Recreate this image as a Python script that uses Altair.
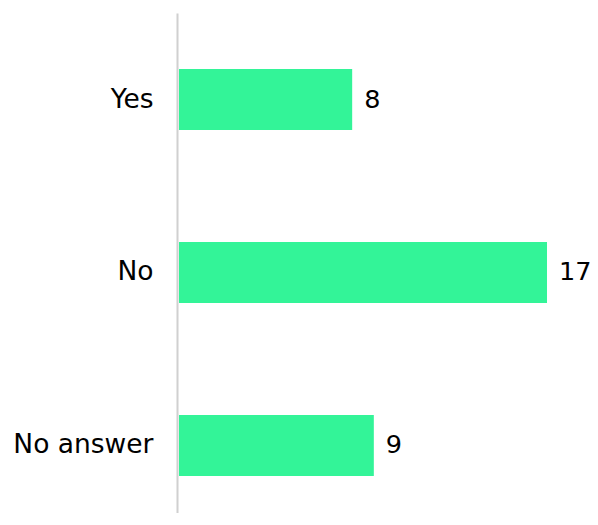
import altair as alt
import pandas as pd

categories = ["Yes", "No", "No answer"]
values = [8, 17, 9]

df = pd.DataFrame({"answer": categories, "count": values})

base = alt.Chart(df).encode(
    y=alt.Y(
        "answer:N",
        sort=categories,
        title=None,
        scale=alt.Scale(paddingInner=0.647, paddingOuter=0.269, align=0.602),
        axis=alt.Axis(
            domain=True,
            domainColor="#d0d0d0",
            domainWidth=2,
            offset=2,
            ticks=False,
            tickSize=0,
            labelPadding=24,
            labelFont="DejaVu Sans",
            labelFontSize=26.5,
            labelColor="#000000",
            grid=False,
        ),
    ),
    x=alt.X(
        "count:Q",
        title=None,
        scale=alt.Scale(domain=[0, 18.478], nice=False),
        axis=None,
    ),
)

bars = base.mark_bar(color="#33F498")
labels = base.mark_text(
    align="left", baseline="middle", dx=12, font="DejaVu Sans", fontSize=25.5, color="#000000"
).encode(text="count:Q")

chart = (
    (bars + labels)
    .properties(
        width=400,
        height=500,
        background="#ffffff",
        autosize=alt.AutoSizeParams(type="none"),
        padding={"left": 171, "top": 5, "right": 11, "bottom": 0},
    )
    .configure_view(strokeWidth=0, stroke=None)
)

chart.save("out.html", embed_options={"renderer": "svg", "actions": False})
